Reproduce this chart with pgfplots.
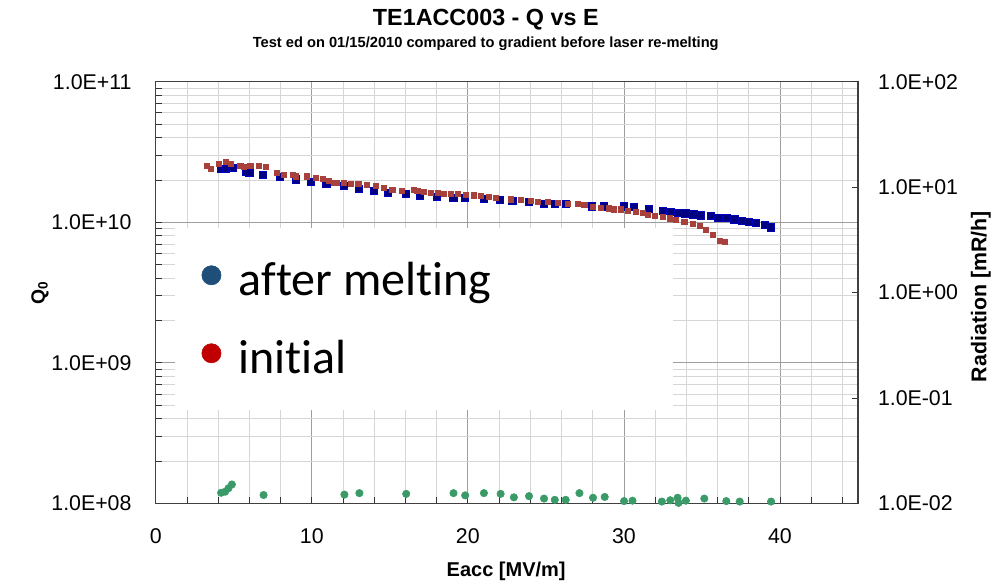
\documentclass[border=0pt]{standalone}
\usepackage{fontspec}
\setmainfont{Liberation Sans}
\newfontfamily\carlito[Ligatures=NoCommon]{Carlito}
\usepackage{pgfplots}
\pgfplotsset{compat=1.18}
\usepackage{pgfplotstable}

\definecolor{qblue}{RGB}{0,0,128}
\definecolor{qred}{RGB}{168,64,60}
\definecolor{radgreen}{RGB}{58,155,105}
\definecolor{legblue}{RGB}{31,78,121}
\definecolor{legred}{RGB}{192,0,0}

% Q0 after laser re-melting
\pgfplotstableread{
x y
4.19 2.39e10
4.51 2.39e10
4.90 2.43e10
5.80 2.28e10
5.99 2.24e10
6.88 2.17e10
7.97 2.11e10
8.99 2.02e10
9.91 1.94e10
10.93 1.87e10
12.07 1.81e10
13.03 1.74e10
13.95 1.68e10
14.85 1.63e10
16.00 1.60e10
16.94 1.55e10
17.99 1.51e10
19.06 1.49e10
19.81 1.49e10
21.01 1.46e10
22.03 1.44e10
22.85 1.42e10
23.88 1.39e10
24.84 1.36e10
25.56 1.36e10
26.27 1.36e10
27.94 1.30e10
28.71 1.30e10
29.99 1.30e10
30.62 1.29e10
31.60 1.25e10
32.48 1.21e10
33.01 1.19e10
33.44 1.17e10
33.93 1.16e10
34.44 1.14e10
34.93 1.12e10
35.58 1.11e10
36.05 1.08e10
36.59 1.07e10
37.07 1.05e10
37.55 1.03e10
38.00 1.01e10
38.47 9.92e9
39.00 9.60e9
39.43 9.20e9
}\after

% Q0 initial test
\pgfplotstableread{
x y
3.27 2.52e10
3.49 2.39e10
4.02 2.60e10
4.45 2.70e10
4.77 2.63e10
5.41 2.52e10
5.62 2.48e10
6.05 2.52e10
6.59 2.52e10
7.06 2.48e10
7.77 2.27e10
8.19 2.19e10
8.77 2.19e10
8.94 2.13e10
9.65 2.13e10
10.22 2.09e10
10.72 2.03e10
11.08 1.97e10
11.40 1.92e10
11.62 1.92e10
12.04 1.92e10
12.47 1.89e10
12.97 1.87e10
13.54 1.84e10
14.10 1.82e10
14.61 1.77e10
15.15 1.70e10
15.73 1.68e10
16.53 1.70e10
16.75 1.68e10
17.18 1.65e10
17.61 1.63e10
18.04 1.62e10
18.46 1.61e10
18.89 1.61e10
19.32 1.59e10
19.85 1.58e10
20.35 1.56e10
20.82 1.55e10
21.35 1.52e10
21.78 1.50e10
22.74 1.46e10
23.38 1.44e10
24.02 1.42e10
24.45 1.40e10
25.10 1.40e10
25.74 1.38e10
26.38 1.36e10
27.02 1.35e10
27.45 1.33e10
27.98 1.29e10
28.52 1.28e10
29.05 1.26e10
29.37 1.24e10
29.80 1.24e10
30.23 1.21e10
30.76 1.19e10
31.19 1.17e10
31.51 1.14e10
31.94 1.12e10
32.48 1.09e10
32.90 1.07e10
33.33 1.05e10
33.86 1.01e10
34.40 9.82e9
34.83 9.40e9
35.26 8.90e9
35.69 8.11e9
36.11 7.35e9
36.43 7.26e9
}\initial

% radiation
\pgfplotstableread{
x y
4.19 0.0126
4.45 0.0129
4.66 0.0139
4.88 0.0151
6.91 0.0120
12.09 0.0121
13.05 0.0125
16.05 0.0123
19.08 0.0125
19.83 0.0119
21.03 0.0125
22.10 0.0123
22.95 0.0114
23.92 0.0117
24.88 0.0111
25.57 0.0108
26.27 0.0108
27.15 0.0125
28.02 0.0113
28.77 0.0115
30.01 0.0105
30.55 0.0106
32.43 0.0104
32.97 0.0107
33.44 0.0113
33.50 0.0101
33.97 0.0106
35.15 0.0111
36.56 0.0105
37.42 0.0104
39.43 0.0104
}\radiation

\begin{document}
\begin{tikzpicture}
\useasboundingbox (-116.8pt,-59.8pt) rectangle (627.2pt,377.5pt);

\begin{axis}[name=main,
  width=526.7pt, height=316.2pt, scale only axis,
  at={(0pt,0pt)}, anchor=south west,
  xmin=0, xmax=45, ymode=log, ymin=1e8, ymax=1e11,
  /pgf/number format/assume math mode=true,
  tick label style={font=\fontsize{16}{19}\selectfont},
  tick align=inside, major tick length=4.5pt, minor tick length=4.5pt,
  tick style={black!80, line width=0.6pt},
  axis line style={black!75, line width=1pt},
  xtick={0,10,...,40}, minor xtick={2,4,...,44},
  ytick={1e8,1e9,1e10,1e11},
  yticklabels={1.0E+08,1.0E+09,1.0E+10,1.0E+11},
  minor ytick={2e8,3e8,4e8,5e8,6e8,7e8,8e8,9e8,
               2e9,3e9,4e9,5e9,6e9,7e9,8e9,9e9,
               2e10,3e10,4e10,5e10,6e10,7e10,8e10,9e10},
  xtick pos=bottom, ytick pos=left,
  grid=both,
  major grid style={black!38, line width=0.6pt},
  minor grid style={black!16, line width=0.6pt},
  xticklabel style={inner sep=0pt, anchor=north, yshift=-18.5pt},
  yticklabel style={inner sep=0pt, anchor=east, xshift=-18pt},
  title={TE1ACC003 - Q vs E},
  title style={at={(rel axis cs:0.47,1)}, anchor=base, inner sep=0pt,
    yshift=35.8pt, font=\fontsize{17.5}{20}\selectfont\bfseries},
  xlabel={Eacc [MV/m]},
  xlabel style={at={([yshift=-50.8pt]rel axis cs:0.499,0)}, anchor=center,
    font=\fontsize{15}{18}\selectfont\bfseries},
  ylabel={Q\textsubscript{0}},
  ylabel style={at={([xshift=-86.8pt]rel axis cs:0,0.5)}, anchor=center,
    font=\fontsize{14.5}{17}\selectfont\bfseries},
  legend cell align=left,
  legend style={at={(rel axis cs:0.0275,0.653)}, anchor=north west,
    fill=white, draw=none, inner xsep=19.7pt, inner ysep=25.5pt,
    row sep=32pt, nodes={inner sep=0pt},
    font=\carlito\fontsize{36}{42}\selectfont},
]
\addplot[only marks, mark=square*, mark size=2.7pt,
  mark options={fill=qblue, draw=blue!45!qblue, line width=0.4pt}, forget plot]
  table {\after};
\addplot[only marks, mark=square*, mark size=1.9pt,
  mark options={fill=qred, draw=qred, line width=0.2pt}, forget plot]
  table {\initial};
\addlegendimage{legend image code/.code={\fill[legblue] (7.2pt,3.5pt) circle[radius=7.2pt]; \path (0pt,0pt) (27.45pt,0pt);}}
\addlegendentry{\makebox[305.8pt][l]{\rule[-8pt]{0pt}{32pt}after melting}}
\addlegendimage{legend image code/.code={\fill[legred] (7.2pt,3.5pt) circle[radius=7.2pt]; \path (0pt,0pt) (27.45pt,0pt);}}
\addlegendentry{\makebox[305.8pt][l]{\rule[-8.5pt]{0pt}{32.5pt}initial}}
\end{axis}

\node[anchor=base, inner sep=0pt, font=\fontsize{11}{13}\selectfont\bfseries]
  at ([xshift=247.5pt, yshift=26pt]main.north west)
  {Test ed on 01/15/2010 compared to gradient before laser re-melting};

\begin{axis}[
  width=526.7pt, height=316.2pt, scale only axis,
  at={(0pt,0pt)}, anchor=south west,
  xmin=0, xmax=45, ymode=log, ymin=1e-2, ymax=1e2,
  tick label style={font=\fontsize{16}{19}\selectfont},
  tick align=inside, major tick length=4.5pt,
  tick style={black!80, line width=0.6pt},
  axis line style={black!75, line width=1pt},
  hide x axis,
  ytick pos=right, yticklabel pos=right,
  ytick={1e-2,1e-1,1,1e1,1e2},
  yticklabels={1.0E-02,1.0E-01,1.0E+00,1.0E+01,1.0E+02},
  yminorticks=false,
  yticklabel style={inner sep=0pt, anchor=west, xshift=14.8pt},
  ylabel={Radiation [mR/h]},
  ylabel style={at={([xshift=92.2pt]rel axis cs:1,0.49)}, anchor=center,
    font=\fontsize{16}{19}\selectfont\bfseries},
  clip mode=individual,
]
\addplot[only marks, mark=*, mark size=2.8pt, color=radgreen] table {\radiation};
\end{axis}
\end{tikzpicture}
\end{document}
